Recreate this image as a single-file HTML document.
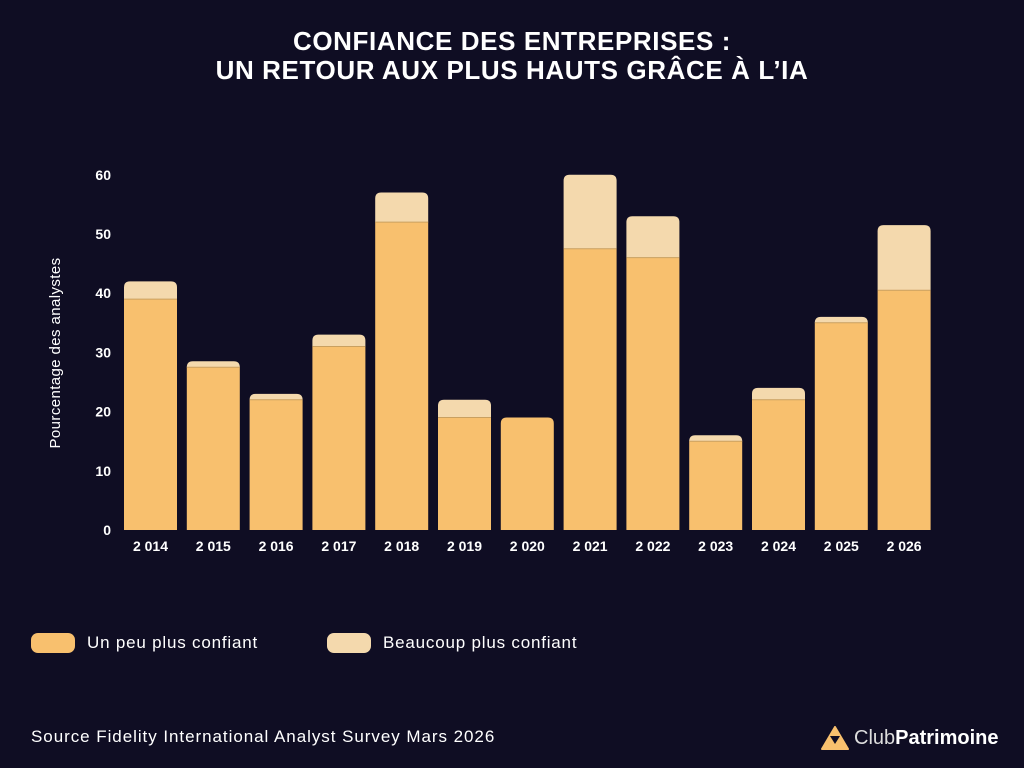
<!DOCTYPE html>
<html><head><meta charset="utf-8"><style>
body{margin:0;width:1024px;height:768px;background:#0f0d23;font-family:"Liberation Sans",sans-serif;color:#fff;overflow:hidden;position:relative}
.t{position:absolute;left:0;width:1024px;text-align:center;font-weight:bold;font-size:26px;line-height:29px;top:27px;letter-spacing:0.6px}
.leg{position:absolute;top:633px;font-size:17px;display:flex;align-items:center;letter-spacing:0.8px}
.sw{width:44px;height:20px;border-radius:7px;margin-right:12px}
</style></head><body>
<div class="t">CONFIANCE DES ENTREPRISES :<br>UN RETOUR AUX PLUS HAUTS GRÂCE À L’IA</div>
<svg id="c" width="1024" height="600" style="position:absolute;left:0;top:0"></svg>
<div class="leg" style="left:31px"><div class="sw" style="background:#f8c06e"></div>Un peu plus confiant</div>
<div class="leg" style="left:327px"><div class="sw" style="background:#f4d9ad"></div>Beaucoup plus confiant</div>
<div style="position:absolute;left:31px;top:727px;font-size:17px;letter-spacing:0.95px">Source Fidelity International Analyst Survey Mars 2026</div>
<div style="position:absolute;left:821px;top:726px;display:flex;align-items:center;font-size:20px">
<svg width="28" height="24" style="margin-right:5px"><path d="M14 1 L27 23 L1 23 Z" fill="#f8c06e" stroke="#f8c06e" stroke-linejoin="round" stroke-width="2"/><path d="M9 10 L19 10 L14 18 Z" fill="#0f0d23"/></svg>
<span style="color:#ddd">Club</span><b>Patrimoine</b></div>
<script>
const years=["2 014","2 015","2 016","2 017","2 018","2 019","2 020","2 021","2 022","2 023","2 024","2 025","2 026"];
const peu=[39,27.5,22,31,52,19,19,47.5,46,15,22,35,40.5];
const beaucoup=[3,1,1,2,5,3,0,12.5,7,1,2,1,11];
const yTicks=[0,10,20,30,40,50,60];
const svg=document.getElementById('c');const NS='http://www.w3.org/2000/svg';
const y=v=>530-v*5.92, x=i=>124+i*62.8, bw=53;
function mk(t,a){const e=document.createElementNS(NS,t);for(const k in a)e.setAttribute(k,a[k]);svg.appendChild(e);return e;}
yTicks.forEach(v=>{const e=mk('text',{x:111,y:y(v)+5,'text-anchor':'end','font-size':14,'font-weight':'bold',fill:'#fff'});e.textContent=v;

});
const yt=mk('text',{transform:'translate(60,353) rotate(-90)','text-anchor':'middle','font-size':15,fill:'#fff','letter-spacing':'0.4'});yt.textContent='Pourcentage des analystes';


years.forEach((yr,i)=>{
const tot=peu[i]+beaucoup[i];
if(beaucoup[i]>0){const r=mk('path',{d:`M${x(i)} ${y(peu[i])} V${y(tot)+6} Q${x(i)} ${y(tot)} ${x(i)+6} ${y(tot)} H${x(i)+bw-6} Q${x(i)+bw} ${y(tot)} ${x(i)+bw} ${y(tot)+6} V${y(peu[i])} Z`,fill:'#f4d9ad'});

}
const top=y(peu[i]);const rr=beaucoup[i]>0?0:6;
const b=mk('path',{d:`M${x(i)} 530 V${top+rr} Q${x(i)} ${top} ${x(i)+rr} ${top} H${x(i)+bw-rr} Q${x(i)+bw} ${top} ${x(i)+bw} ${top+rr} V530 Z`,fill:'#f8c06e'});


if(beaucoup[i]>0)mk('line',{x1:x(i),x2:x(i)+bw,y1:top,y2:top,stroke:'#c9a060','stroke-width':1});
const t=mk('text',{x:x(i)+bw/2,y:551,'text-anchor':'middle','font-size':14,'font-weight':'bold',fill:'#fff'});t.textContent=yr;


});
</script>
</body></html>
